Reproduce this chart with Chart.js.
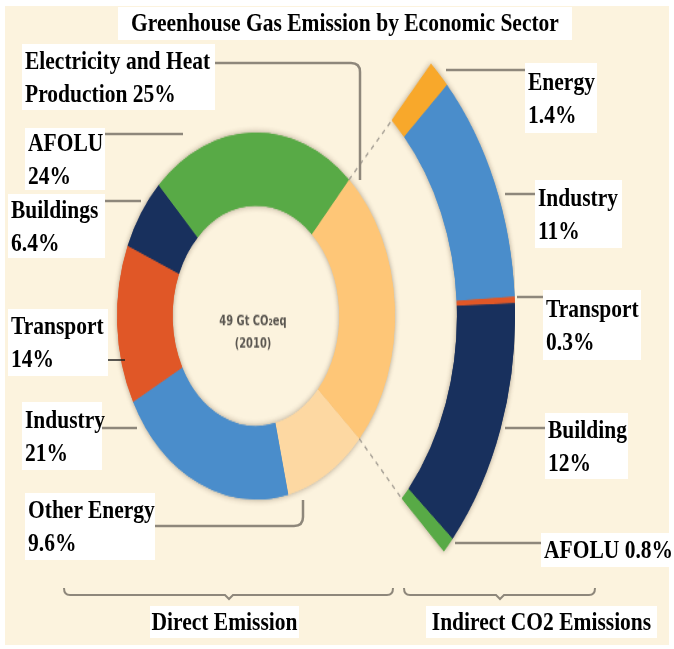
<!DOCTYPE html>
<html>
<head>
<meta charset="utf-8">
<script src="https://cdn.jsdelivr.net/npm/chart.js@4.4.1/dist/chart.umd.min.js"></script>
<style>
  html, body { margin: 0; padding: 0; background: #fff; }
  #stage { position: relative; width: 674px; height: 649px; overflow: hidden; background: #fff; }
  #frame { position: absolute; left: 5px; top: 6px; width: 664px; height: 639px; background: #FCF3DE; }
  #chartWrap { position: absolute; left: -3px; top: 57px; width: 518px; height: 518px;
    transform: scaleY(1.32); transform-origin: 50% 50%; }
  #lines { position: absolute; left: 0; top: 0; width: 674px; height: 649px; }
  .lbl { position: absolute; background: #fff; display: flex; align-items: center;
    font-family: "Liberation Serif", "Times New Roman", serif; font-weight: bold;
    font-size: 21.5px; color: #000; box-sizing: border-box; padding-left: 3px; white-space: nowrap; }
  .lbl span { display: block; line-height: 28.5px; transform: scaleY(1.16); transform-origin: 0 50%; }
  .lbl.center { justify-content: center; padding-left: 0; }
  .lbl.center span { transform-origin: 50% 50%; }
</style>
</head>
<body>
<div id="stage">
  <div id="frame"></div>
  <div id="chartWrap"><canvas id="ghg"></canvas></div>
  <svg id="lines" width="674" height="649"></svg>
</div>
<script>
// Direct emissions (inner ring), clockwise from the Electricity wedge
var directLabels = ['Electricity and Heat Production', 'Other Energy', 'Industry', 'Transport', 'Buildings', 'AFOLU'];
var directValues = [25, 9.6, 21, 14, 6.4, 24];
var directColors = ['#FEC677', '#FDD8A2', '#4A8DCB', '#E05727', '#18305D', '#58AA46'];

// Indirect CO2 emissions (outer arc, expands the Electricity wedge)
var indirectLabels = ['Energy', 'Industry', 'Transport', 'Building', 'AFOLU'];
var indirectValues = [1.4, 11, 0.3, 12, 0.8];
var indirectColors = ['#F8A82B', '#4A8DCB', '#E05727', '#18305D', '#58AA46'];

var chartTitle = 'Greenhouse Gas Emission by Economic Sector';
var centerLines = ['49 Gt CO\u2082eq', '(2010)'];
var groupLabels = ['Direct Emission', 'Indirect CO2 Emissions'];

function pct(v) { return v + '%'; }

// label boxes: [text lines, left, top, width, height, leader path, leader colour]
var GREY = '#8E877B';
var labelBoxes = [
  [['Electricity and Heat', 'Production ' + pct(directValues[0])], 22, 44, 193, 66, 'M215,63 H351 Q360,63 360,72 V180', GREY],
  [[directLabels[1], pct(directValues[1])], 25, 493, 130, 67, 'M155,526 H294 Q303,526 303,517 V500', GREY],
  [[directLabels[2], pct(directValues[2])], 22, 402, 80, 68, 'M101,428 H137', GREY],
  [[directLabels[3], pct(directValues[3])], 8, 309, 100, 67, 'M104,360 H125', '#222'],
  [[directLabels[4], pct(directValues[4])], 8, 194, 97, 64, 'M105,201 H141', GREY],
  [[directLabels[5], pct(directValues[5])], 25, 128, 80, 62, 'M105,134 H183', GREY],
  [[indirectLabels[0], pct(indirectValues[0])], 525, 63, 72, 70, 'M446,70 H527', GREY],
  [[indirectLabels[1], pct(indirectValues[1])], 535, 180, 87, 68, 'M505,194 H537', GREY],
  [[indirectLabels[2], pct(indirectValues[2])], 543, 290, 98, 70, 'M517,297 H545', GREY],
  [[indirectLabels[3], pct(indirectValues[3])], 545, 413, 83, 66, 'M505,428 H547', GREY],
  [[indirectLabels[4] + ' ' + pct(indirectValues[4])], 541, 533, 128, 34, 'M455,543 H543', GREY]
];

var stage = document.getElementById('stage');
var svg = document.getElementById('lines');
var svgHtml = '';

function addBox(lines, x, y, w, h, cls) {
  var d = document.createElement('div');
  d.className = 'lbl' + (cls ? ' ' + cls : '');
  d.style.left = x + 'px'; d.style.top = y + 'px';
  d.style.width = w + 'px'; d.style.height = h + 'px';
  d.innerHTML = '<span>' + lines.join('<br>') + '</span>';
  stage.appendChild(d);
}

labelBoxes.forEach(function (b) {
  svgHtml += '<path d="' + b[5] + '" fill="none" stroke="' + b[6] + '" stroke-width="' + (b[6] === GREY ? 2.5 : 1.5) + '"/>';
  addBox(b[0], b[1], b[2], b[3], b[4]);
});

// bottom braces
svgHtml += '<path d="M64,588 Q64,595 70,595 H225 L229,599 L233,595 H387 Q393,595 393,588" fill="none" stroke="' + GREY + '" stroke-width="2"/>';
svgHtml += '<path d="M404,588 Q404,595 410,595 H496 L500,599 L504,595 H589 Q595,595 595,588" fill="none" stroke="' + GREY + '" stroke-width="2"/>';
svg.innerHTML = svgHtml;

addBox([chartTitle], 118, 7, 454, 33, 'center');
addBox([groupLabels[0]], 150, 606, 149, 32, 'center');
addBox([groupLabels[1]], 426, 606, 231, 32, 'center');

// soft drop shadow under each ring: draw the arcs once with a shadow, then normally on top
var shadowPlugin = {
  id: 'ringShadow',
  beforeDatasetDraw: function (chart, args) {
    if (args.index === 1) return;
    var ctx = chart.ctx;
    ctx.save();
    ctx.shadowColor = 'rgba(70,50,30,0.45)';
    ctx.shadowBlur = 5;
    args.meta.data.forEach(function (el) { el.draw(ctx, chart.chartArea); });
    ctx.restore();
  }
};

// dashed connectors from the Electricity wedge to the indirect arc + centre text
var connectorPlugin = {
  id: 'connectors',
  afterDatasetsDraw: function (chart) {
    var ctx = chart.ctx;
    var outer = chart.getDatasetMeta(0).data;
    var elec = chart.getDatasetMeta(2).data[0];
    var first = outer[0], last = outer[outer.length - 1];
    var pairs = [[elec.startAngle, first.startAngle], [elec.endAngle, last.endAngle]];
    ctx.save();
    ctx.setLineDash([4, 4]);
    ctx.strokeStyle = '#A39D93';
    ctx.lineWidth = 1.3;
    pairs.forEach(function (p) {
      ctx.beginPath();
      ctx.moveTo(elec.x + Math.cos(p[0]) * elec.outerRadius, elec.y + Math.sin(p[0]) * elec.outerRadius);
      ctx.lineTo(first.x + Math.cos(p[1]) * first.innerRadius, first.y + Math.sin(p[1]) * first.innerRadius);
      ctx.stroke();
    });
    ctx.setLineDash([]);
    ctx.fillStyle = '#5A5650';
    ctx.font = 'bold 11px "DejaVu Sans Condensed", "DejaVu Sans", sans-serif';
    ctx.textAlign = 'center';
    ctx.textBaseline = 'middle';
    ctx.fillText(centerLines[0], elec.x - 3, elec.y + 4);
    ctx.fillText(centerLines[1], elec.x - 3, elec.y + 21);
    ctx.restore();
  }
};

new Chart(document.getElementById('ghg').getContext('2d'), {
  type: 'doughnut',
  data: {
    labels: directLabels,
    datasets: [
      { label: 'Indirect', data: indirectValues, backgroundColor: indirectColors,
        rotation: 42.5, circumference: 91, weight: 58, borderWidth: 0 },
      { label: 'gap', data: [1], backgroundColor: 'rgba(0,0,0,0)', weight: 62, borderWidth: 0 },
      { label: 'Direct', data: directValues, backgroundColor: directColors,
        rotation: 42, weight: 55.5, borderWidth: 0 }
    ]
  },
  options: {
    responsive: true, maintainAspectRatio: false,
    animation: false,
    cutout: '32.2%',
    layout: { padding: 0 },
    events: [],
    plugins: { legend: { display: false }, tooltip: { enabled: false }, title: { display: false } }
  },
  plugins: [shadowPlugin, connectorPlugin]
});
</script>
</body>
</html>
